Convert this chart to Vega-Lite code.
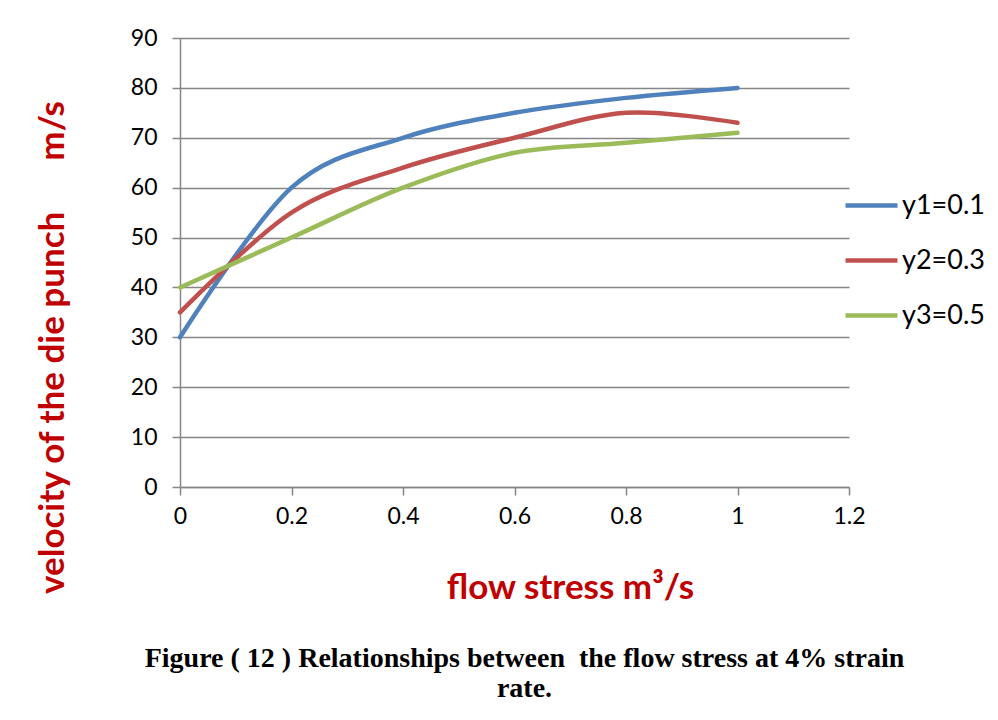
{
  "$schema": "https://vega.github.io/schema/vega-lite/v6.json",
  "width": 669,
  "height": 449,
  "autosize": "none",
  "padding": {"left": 180, "top": 38, "right": 149, "bottom": 233},
  "background": "white",
  "title": {
    "text": ["Figure ( 12 ) Relationships between\u00a0 the flow stress at 4% strain", "rate."],
    "orient": "bottom",
    "anchor": "middle",
    "frame": "group",
    "font": "Liberation Serif",
    "fontSize": 28,
    "fontWeight": "bold",
    "color": "black",
    "lineHeight": 30,
    "baseline": "alphabetic",
    "offset": 62,
    "dx": 10
  },
  "data": {
    "values": [
      {"x": 0, "y": 30, "s": "y1=0.1"},
      {"x": 0.2, "y": 60, "s": "y1=0.1"},
      {"x": 0.4, "y": 70, "s": "y1=0.1"},
      {"x": 0.6, "y": 75, "s": "y1=0.1"},
      {"x": 0.8, "y": 78, "s": "y1=0.1"},
      {"x": 1.0, "y": 80, "s": "y1=0.1"},
      {"x": 0, "y": 35, "s": "y2=0.3"},
      {"x": 0.2, "y": 55, "s": "y2=0.3"},
      {"x": 0.4, "y": 64, "s": "y2=0.3"},
      {"x": 0.6, "y": 70, "s": "y2=0.3"},
      {"x": 0.8, "y": 75, "s": "y2=0.3"},
      {"x": 1.0, "y": 73, "s": "y2=0.3"},
      {"x": 0, "y": 40, "s": "y3=0.5"},
      {"x": 0.2, "y": 50, "s": "y3=0.5"},
      {"x": 0.4, "y": 60, "s": "y3=0.5"},
      {"x": 0.6, "y": 67, "s": "y3=0.5"},
      {"x": 0.8, "y": 69, "s": "y3=0.5"},
      {"x": 1.0, "y": 71, "s": "y3=0.5"}
    ]
  },
  "mark": {"type": "line", "interpolate": "cardinal", "strokeWidth": 4.5, "strokeCap": "round"},
  "encoding": {
    "x": {
      "field": "x",
      "type": "quantitative",
      "scale": {"domain": [0, 1.2], "nice": false},
      "axis": {
        "values": [0, 0.2, 0.4, 0.6, 0.8, 1, 1.2],
        "format": "~g",
        "grid": false,
        "domainColor": "#868686",
        "domainWidth": 1.5,
        "tickColor": "#868686",
        "tickWidth": 1.5,
        "tickSize": 8,
        "labelFont": "Lato",
        "labelFontSize": 23,
        "labelColor": "black",
        "labelPadding": 10,
        "labelFlush": false,
        "title": "flow stress m³/s",
        "titleFont": "Lato",
        "titleFontSize": 35,
        "titleFontWeight": "bold",
        "titleColor": "#C00000",
        "titleX": 390,
        "titleY": 111,
        "titleBaseline": "alphabetic",
        "titleAnchor": "middle",
        "titleAlign": "center"
      }
    },
    "y": {
      "field": "y",
      "type": "quantitative",
      "scale": {"domain": [0, 90], "nice": false},
      "axis": {
        "values": [0, 10, 20, 30, 40, 50, 60, 70, 80, 90],
        "grid": true,
        "gridColor": "#868686",
        "gridWidth": 1.5,
        "domainColor": "#868686",
        "domainWidth": 1.5,
        "tickColor": "#868686",
        "tickWidth": 1.5,
        "tickSize": 8,
        "labelFont": "Lato",
        "labelFontSize": 23,
        "labelColor": "black",
        "labelPadding": 15,
        "labelFlush": false,
        "title": "velocity of the die punch\u00a0\u00a0\u00a0\u00a0\u00a0 m/s",
        "titleFont": "Lato",
        "titleFontSize": 35,
        "titleFontWeight": "bold",
        "titleColor": "#C00000",
        "titleAngle": -90,
        "titleX": -117,
        "titleY": 309,
        "titleBaseline": "alphabetic",
        "titleAnchor": "middle",
        "titleAlign": "center"
      }
    },
    "color": {
      "field": "s",
      "type": "nominal",
      "scale": {"domain": ["y1=0.1", "y2=0.3", "y3=0.5"], "range": ["#4F81BD", "#C0504D", "#9BBB59"]},
      "legend": {
        "title": null,
        "orient": "none",
        "legendX": 663,
        "legendY": 139,
        "symbolType": "stroke",
        "symbolSize": 2700,
        "symbolStrokeWidth": 4.5,
        "labelFont": "Lato",
        "labelFontSize": 27,
        "labelColor": "black",
        "labelOffset": 2,
        "rowPadding": 13
      }
    }
  },
  "config": {"view": {"stroke": null}}
}
